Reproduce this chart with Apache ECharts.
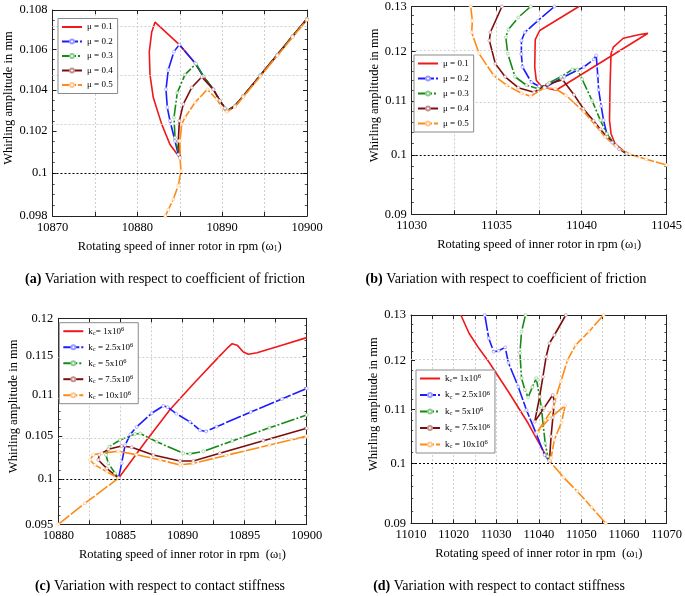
<!DOCTYPE html>
<html><head><meta charset="utf-8">
<script src="https://cdn.jsdelivr.net/npm/echarts@6/dist/echarts.min.js"></script>
<style>html,body{margin:0;padding:0;background:#fff}#c{width:685px;height:596px}</style>
</head><body><div id="c"></div>
<script>
// ---------- tick labels ----------
const yTicksA = [0.098, 0.1, 0.102, 0.104, 0.106, 0.108];
const yTicksB = [0.09, 0.1, 0.11, 0.12, 0.13];
const yTicksC = [0.095, 0.1, 0.105, 0.11, 0.115, 0.12];
const yTicksD = [0.09, 0.1, 0.11, 0.12, 0.13];
const yMinorStep = [0.0005, 0.002, 0.001, 0.002];
const muLabels = ['μ = 0.1', 'μ = 0.2', 'μ = 0.3', 'μ = 0.4', 'μ = 0.5'];
const kLabels = ['k{s|c}= 1x10{p|6}', 'k{s|c} = 2.5x10{p|6}', 'k{s|c} = 5x10{p|6}', 'k{s|c} = 7.5x10{p|6}', 'k{s|c} = 10x10{p|6}'];

// ---------- (a) friction, low speed ----------
const aMu1 = [[10885.03,0.10072],[10884.83,0.10080],[10883.85,0.10136],[10882.87,0.10234],[10881.88,0.10363],[10881.49,0.10476],[10881.41,0.10590],[10881.69,0.10687],[10882.08,0.10738],[10884.95,0.10625],[10886.8,0.10533],[10887.78,0.10468],[10888.96,0.10403],[10889.74,0.10347],[10890.33,0.10311],[10890.6,0.10299],[10891.51,0.10323],[10892.49,0.10371],[10900,0.10755]];
const aMu2 = [[10885.03,0.10072],[10884.83,0.10088],[10884.44,0.10153],[10883.85,0.10250],[10883.53,0.10315],[10883.38,0.10403],[10883.65,0.10500],[10884.32,0.10590],[10884.95,0.10625],[10886.8,0.10533],[10887.78,0.10468],[10888.96,0.10403],[10889.74,0.10347],[10890.33,0.10311],[10890.6,0.10299],[10891.51,0.10323],[10892.49,0.10371],[10894.5,0.10473],[10896.5,0.10575],[10898.3,0.10668],[10900,0.10755]];
const aMu3 = [[10885.03,0.10072],[10884.44,0.10169],[10884.32,0.10266],[10884.71,0.10387],[10885.62,0.10476],[10886.92,0.10530],[10887.78,0.10468],[10888.96,0.10403],[10889.74,0.10347],[10890.33,0.10311],[10890.6,0.10299],[10891.51,0.10323],[10892.49,0.10371],[10894.5,0.10473],[10896.5,0.10575],[10898.3,0.10668],[10900,0.10755]];
const aMu4 = [[10885.03,0.10072],[10884.83,0.10153],[10884.95,0.10250],[10885.42,0.10331],[10886.41,0.10412],[10887.59,0.10464],[10888.96,0.10403],[10889.74,0.10347],[10890.33,0.10311],[10890.6,0.10297],[10891.51,0.10321],[10892.49,0.10369],[10894.5,0.10471],[10896.5,0.10573],[10898.3,0.10666],[10900,0.10753]];
const aMu5 = [[10883.3,0.0980],[10883.65,0.09829],[10884.24,0.09878],[10884.83,0.09942],[10885.15,0.1001],[10885.03,0.10072],[10885.03,0.10153],[10885.23,0.10234],[10885.62,0.10266],[10886.8,0.10339],[10888.25,0.10403],[10889.36,0.10355],[10889.95,0.10315],[10890.53,0.10293],[10891.51,0.10318],[10892.49,0.10366],[10894.5,0.10468],[10896.5,0.10570],[10898.3,0.10663],[10900,0.10750]];

// ---------- (b) friction, high speed ----------
const bMu1 = [[11039.84,0.13],[11037.53,0.1246],[11037.27,0.1226],[11037.24,0.1168],[11037.33,0.1141],[11037.6,0.1130],[11038.0,0.1125],[11038.49,0.1121],[11043.9,0.1240],[11043.42,0.1237],[11042.45,0.1229],[11041.87,0.1210],[11041.73,0.1196],[11041.67,0.1127],[11041.64,0.1063],[11041.73,0.1038],[11041.96,0.1020],[11042.64,0.1002]];
const bMu2 = [[11038.4,0.13],[11037.43,0.1268],[11036.66,0.1242],[11036.46,0.1224],[11036.45,0.1195],[11036.52,0.1168],[11037.04,0.1137],[11037.5,0.1129],[11037.82,0.1126],[11038.98,0.1148],[11040.13,0.1168],[11040.71,0.1184],[11040.86,0.1192],[11040.95,0.1150],[11041.0,0.1122],[11041.15,0.1090],[11041.29,0.1063],[11041.48,0.1038],[11041.8,0.1022],[11042.2,0.1010],[11042.64,0.1002]];
const bMu3 = [[11037.0,0.13],[11036.27,0.1275],[11035.69,0.1248],[11035.54,0.1231],[11035.65,0.1196],[11036.08,0.1148],[11036.75,0.1131],[11037.43,0.1124],[11038.1,0.1136],[11038.78,0.1148],[11039.46,0.1163],[11039.75,0.1163],[11040.03,0.1143],[11040.61,0.1101],[11041.1,0.1063],[11041.48,0.1038],[11042.0,0.1016],[11042.64,0.1002]];
const bMu4 = [[11035.31,0.13],[11034.63,0.1242],[11034.57,0.1224],[11034.92,0.1175],[11035.5,0.1148],[11036.27,0.1126],[11037.2,0.1117],[11038.0,0.1133],[11038.88,0.1142],[11039.55,0.1112],[11040.1,0.1085],[11040.7,0.1062],[11041.1,0.1046],[11041.5,0.1032],[11042.0,0.1017],[11042.64,0.1002]];
const bMu5 = [[11033.47,0.13],[11033.57,0.1268],[11033.53,0.1242],[11033.96,0.1196],[11034.82,0.1151],[11035.59,0.1131],[11036.46,0.1115],[11037.0,0.1109],[11037.82,0.1126],[11038.45,0.1124],[11039.07,0.1111],[11040.13,0.1079],[11040.8,0.1054],[11041.38,0.1032],[11042.06,0.1014],[11042.83,0.1001],[11043.8,0.0992],[11045,0.0982]];

// ---------- (c) contact stiffness, low speed ----------
const cK1 = [[10884.85,0.1001],[10887,0.1043],[10889,0.1082],[10891,0.1116],[10893,0.1150],[10893.6,0.1160],[10894.0,0.1166],[10894.4,0.1164],[10894.9,0.1155],[10895.3,0.1152],[10896,0.1154],[10898,0.1164],[10900,0.1174]];
const cK2 = [[10884.85,0.1001],[10885.1,0.1018],[10885.37,0.1039],[10885.8,0.1052],[10886.31,0.1061],[10887.52,0.10775],[10888.45,0.10865],[10888.8,0.1085],[10889.5,0.1077],[10890.6,0.1067],[10891.4,0.1057],[10891.9,0.10555],[10892.75,0.10612],[10895.5,0.1079],[10898,0.1095],[10900,0.11083]];
const cK3 = [[10884.85,0.1001],[10884.57,0.10066],[10884.03,0.1018],[10883.84,0.10277],[10884.1,0.10374],[10884.97,0.10453],[10886.18,0.10525],[10886.6,0.1053],[10887.92,0.10433],[10890.06,0.10297],[10890.6,0.10290],[10891.67,0.1032],[10894,0.10441],[10897,0.10598],[10900,0.10754]];
const cK4 = [[10884.85,0.1001],[10883.9,0.10122],[10883.22,0.10219],[10883.3,0.1028],[10884.03,0.10343],[10885.1,0.10382],[10885.9,0.10367],[10887.65,0.10277],[10889.8,0.10207],[10890.87,0.10207],[10893,0.10297],[10896.5,0.10445],[10900,0.10593]];
const cK5 = [[10880,0.095],[10882.15,0.0973],[10884.85,0.1001],[10883.9,0.10084],[10882.95,0.10161],[10882.55,0.10219],[10882.82,0.1028],[10883.5,0.10297],[10884.83,0.1032],[10886.3,0.1028],[10888.2,0.10219],[10889.8,0.10161],[10890.87,0.1018],[10893.5,0.10272],[10897,0.10393],[10900,0.10498]];

// ---------- (d) contact stiffness, high speed ----------
const dK1 = [[11021.7,0.13],[11023.63,0.12587],[11025.94,0.12257],[11028.25,0.11970],[11032.87,0.11353],[11037.5,0.10738],[11041.72,0.10137],[11042.5,0.10051]];
const dK2 = [[11027.33,0.13],[11028.25,0.12476],[11029.4,0.12183],[11030.56,0.12205],[11032.1,0.12278],[11032.87,0.11949],[11035.18,0.11454],[11037.1,0.10993],[11039.41,0.10540],[11041.35,0.10153],[11042.5,0.10051]];
const dK3 = [[11036.87,0.13],[11035.95,0.12623],[11035.57,0.12162],[11035.95,0.11628],[11036.73,0.11388],[11037.5,0.11242],[11038.5,0.1145],[11039.41,0.11628],[11039.8,0.11593],[11040.57,0.11057],[11041.5,0.10366],[11042.1,0.1013],[11042.5,0.10051]];
const dK4 = [[11046.35,0.13],[11043.67,0.12549],[11042.5,0.12367],[11041.72,0.12076],[11040.96,0.11657],[11040.2,0.11254],[11039.04,0.10769],[11041.2,0.1103],[11043.27,0.11288],[11043.67,0.1116],[11043.3,0.1085],[11042.88,0.10492],[11042.5,0.10051]];
const dK5 = [[11055.2,0.13],[11051.76,0.12623],[11048.66,0.12329],[11046.74,0.12006],[11045.19,0.11559],[11044.04,0.11254],[11043.5,0.1105],[11041.5,0.1080],[11039.6,0.1057],[11042.5,0.1083],[11046.2,0.1108],[11045.3,0.1075],[11043.66,0.1043],[11042.88,0.1010],[11042.5,0.10051],[11045.8,0.0976],[11049,0.09525],[11052.4,0.0926],[11055.7,0.09]];

// ---------- build ----------
const L = Math.log10;
const FONT = '"Liberation Serif","Times New Roman",serif';
const styles = [
  {color:'#f01818', mark:'#f01818', fill:'#f01818', type:'solid', symbol:'none'},
  {color:'#1c1cff', mark:'#9a9aff', fill:'#fff', type:[16,2], symbol:'circle'},
  {color:'#168a16', mark:'#8ccc8c', fill:'#fff', type:[14,2,2,2], symbol:'circle'},
  {color:'#7d0c0c', mark:'#c49090', fill:'#fff', type:'solid', symbol:'circle'},
  {color:'#ff8a14', mark:'#ffc890', fill:'#fff', type:[14,2], symbol:'circle'}
];
const xName = 'Rotating speed of inner rotor in rpm (ω{s|1})';
const xName2 = 'Rotating speed of inner rotor in rpm  (ω{s|1})';

const panels = [
  {grid:{left:52.5, top:10, width:254.5, height:206}, xMin:10870, xMax:10900, xInt:5, xLab:10,
   yT:yTicksA, data:[aMu1,aMu2,aMu3,aMu4,aMu5], labels:muLabels, xName:xName, yGap:36,
   legend:{left:58, top:18.5, gap:3.5}},
  {grid:{left:411.7, top:6, width:259, height:208.3}, xMin:11030, xMax:11045, xInt:2.5, xLab:5,
   yT:yTicksB, data:[bMu1,bMu2,bMu3,bMu4,bMu5], labels:muLabels, xName:xName, yGap:30,
   legend:{left:414, top:55, gap:4}},
  {grid:{left:58.3, top:318.3, width:248.4, height:206}, xMin:10880, xMax:10900, xInt:2.5, xLab:5,
   yT:yTicksC, data:[cK1,cK2,cK3,cK4,cK5], labels:kLabels, xName:xName2, yGap:38,
   legend:{left:59.3, top:322.7, gap:5}},
  {grid:{left:411, top:315, width:259.7, height:208.3}, xMin:11010, xMax:11070, xInt:5, xLab:10,
   yT:yTicksD, data:[dK1,dK2,dK3,dK4,dK5], labels:kLabels, xName:xName2, yGap:30,
   legend:{left:416, top:370, gap:5.5}}
];

const grids=[], xAxes=[], yAxes=[], series=[], legends=[];
const axisColor = '#222';
panels.forEach((p, i) => {
  grids.push(Object.assign({containLabel:false}, p.grid));
  const xCommon = {type:'value', gridIndex:i, min:p.xMin, max:p.xMax, interval:p.xInt,
    axisLine:{show:true, onZero:false, lineStyle:{color:axisColor, width:1}},
    axisTick:{show:true, inside:true, length:4, lineStyle:{color:axisColor}}};
  xAxes.push(Object.assign({}, xCommon, {position:'bottom',
    axisLabel:{fontFamily:FONT, fontSize:12.5, color:'#000', margin:5,
      formatter: v => (Math.abs(v % p.xLab) < 1e-6 ? String(v) : '')},
    splitLine:{show:true, lineStyle:{color:'#cfcfcf', type:[2,2], width:1}},
    name:p.xName, nameLocation:'middle', nameGap:24,
    nameTextStyle:{fontFamily:FONT, fontSize:12.5, color:'#000',
      rich:{s:{fontFamily:FONT, fontSize:7.5, lineHeight:8, verticalAlign:'bottom', color:'#000'}}}}));
  xAxes.push(Object.assign({}, xCommon, {position:'top', axisLabel:{show:false}, splitLine:{show:false}}));
  const tv = p.yT.map(L);
  const lo = p.yT[0], hi = p.yT[p.yT.length-1];
  const minor = [];
  for (let v = lo; v <= hi + 1e-9; v += yMinorStep[i]) minor.push(L(v));
  const lab = v => { for (const t of p.yT) if (Math.abs(L(t) - v) < 1e-9) return String(t); return ''; };
  const yCommon = {type:'value', gridIndex:i, min:L(lo), max:L(hi),
    axisLine:{show:true, onZero:false, lineStyle:{color:axisColor, width:1}},
    axisTick:{show:true, inside:true, length:4, customValues:tv, lineStyle:{color:axisColor}},
    splitLine:{show:false}};
  yAxes.push(Object.assign({}, yCommon, {position:'left',
    axisLabel:{customValues:tv, formatter:lab, fontFamily:FONT, fontSize:12.5, color:'#000', margin:5},
    name:'Whirling amplitude in mm', nameLocation:'middle', nameRotate:90, nameGap:p.yGap,
    nameTextStyle:{fontFamily:FONT, fontSize:12.5, color:'#000', padding:[0,0,0,30]}}));
  yAxes.push(Object.assign({}, yCommon, {position:'right', axisLabel:{show:false}}));
  ['left','right'].forEach(pos => {
    yAxes.push({type:'value', gridIndex:i, min:L(lo), max:L(hi), position:pos,
      axisLine:{show:false}, splitLine:{show:false}, axisLabel:{show:false},
      axisTick:{show:true, inside:true, length:2.2, customValues:minor, lineStyle:{color:axisColor, width:0.8}}});
  });

  const gl = p.yT.filter(t => t !== 0.1 && t !== lo && t !== hi).map(t => ({yAxis:L(t)}));
  gl.push({yAxis:L(0.1), lineStyle:{color:'#000', type:[2,2], width:1}});
  series.push({type:'line', name:'_g'+i, xAxisIndex:i*2, yAxisIndex:i*4, data:[[p.xMin, L(lo)]],
    showSymbol:false, lineStyle:{width:0}, silent:true, z:1,
    markLine:{silent:true, symbol:'none', animation:false, label:{show:false},
      lineStyle:{color:'#cfcfcf', type:[2,2], width:1}, data:gl}});

  const names = p.labels.map((t, k) => 'p' + i + '_' + k);
  p.data.forEach((d, k) => {
    const st = styles[k];
    series.push({type:'line', name:names[k], xAxisIndex:i*2, yAxisIndex:i*4,
      data:d.map(q => [q[0], L(q[1])]),
      showSymbol: st.symbol !== 'none', symbol: st.symbol, symbolSize:3,
      lineStyle:{color:st.color, width:1.6, type:st.type},
      itemStyle:{color:st.fill, borderColor:st.mark, borderWidth:0.7},
      z:3, clip:true, emphasis:{disabled:true}});
  });

  legends.push({orient:'vertical', left:p.legend.left, top:p.legend.top, z:10,
    itemWidth:20, itemHeight:5, itemGap:p.legend.gap, padding:[3,5,3,3],
    borderColor:'#8a8a8a', borderWidth:1, backgroundColor:'#fff', selectedMode:false,
    data:names.map((n, k) => k === 0
      ? {name:n, icon:'path://M0,0H20V2H0Z', itemStyle:{color:styles[0].color, borderWidth:0}}
      : {name:n}),
    formatter: n => p.labels[names.indexOf(n)],
    textStyle:{fontFamily:FONT, fontSize:9, color:'#000', lineHeight:11,
      rich:{s:{fontFamily:FONT, fontSize:6.5, lineHeight:6, verticalAlign:'bottom', color:'#000'},
            p:{fontFamily:FONT, fontSize:6.5, lineHeight:6, verticalAlign:'top', color:'#000'}}}});
});

const capRich = {b:{fontFamily:FONT, fontSize:14, fontWeight:'bold', fill:'#000', color:'#000'}};
function cap(x, y, t) {
  return {type:'text', x:x, y:y, silent:true,
    style:{text:t, align:'center', verticalAlign:'middle', fontFamily:FONT, fontSize:14, fill:'#000', rich:capRich}};
}

const chart = echarts.init(document.getElementById('c'), null, {renderer:'canvas'});
chart.setOption({
  animation:false,
  backgroundColor:'#fff',
  grid:grids, xAxis:xAxes, yAxis:yAxes, series:series, legend:legends,
  graphic:[
    cap(165, 279, '{b|(a)} Variation with respect to coefficient of friction'),
    cap(506, 279, '{b|(b)} Variation with respect to coefficient of friction'),
    cap(160, 586, '{b|(c)} Variation with respect to contact stiffness'),
    cap(499, 586, '{b|(d)} Variation with respect to contact stiffness')
  ]
});
</script></body></html>
